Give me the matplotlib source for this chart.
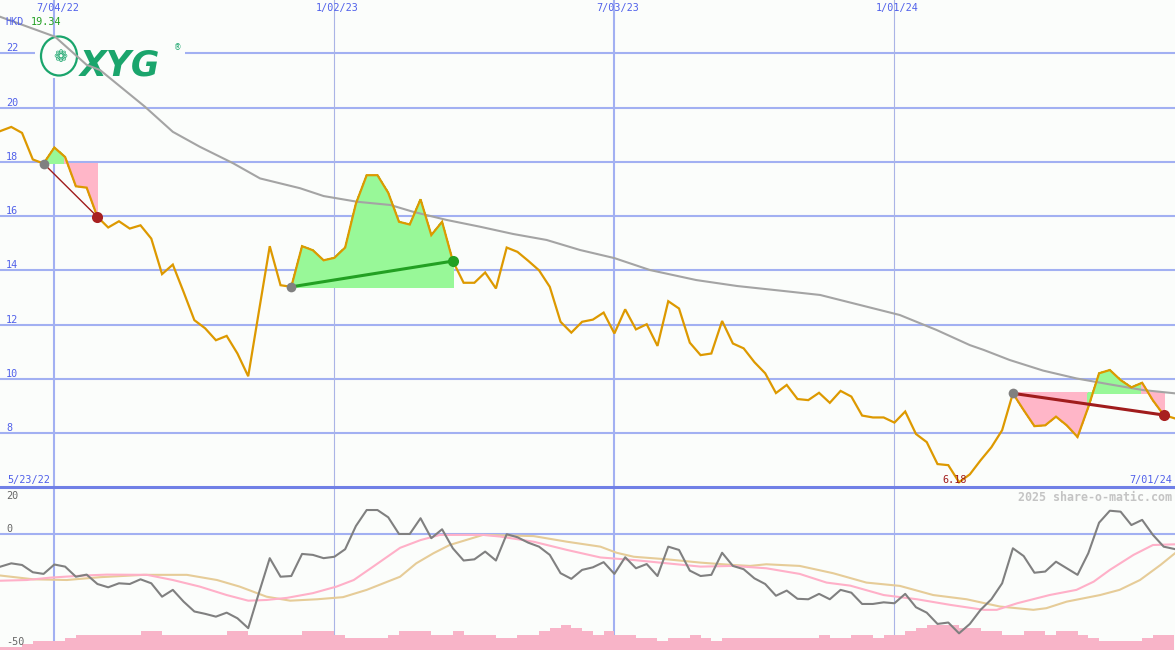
import matplotlib
matplotlib.use('Agg')
import matplotlib.pyplot as plt
from matplotlib.patches import Rectangle, Ellipse
import numpy as np

# ---------------- data ----------------
price = [19.14, 19.29, 19.07, 18.09, 17.94, 18.53, 18.18, 17.10, 17.05, 15.97,
         15.58, 15.81, 15.54, 15.66, 15.17, 13.86, 14.21, 13.20, 12.16, 11.86,
         11.42, 11.58, 10.93, 10.09, 12.50, 14.89, 13.45, 13.39, 14.89, 14.74,
         14.37, 14.46, 14.84, 16.46, 17.51, 17.51, 16.86, 15.79, 15.69, 16.62,
         15.30, 15.79, 14.34, 13.54, 13.54, 13.92, 13.33, 14.84, 14.68, 14.35,
         14.00, 13.39, 12.10, 11.70, 12.10, 12.18, 12.44, 11.67, 12.56, 11.82,
         12.01, 11.21, 12.86, 12.59, 11.33, 10.87, 10.93, 12.13, 11.30, 11.12,
         10.61, 10.20, 9.47, 9.77, 9.25, 9.21, 9.48, 9.11, 9.55, 9.34,
         8.64, 8.57, 8.57, 8.38, 8.79, 7.96, 7.66, 6.85, 6.81, 6.18,
         6.47, 6.99, 7.47, 8.10, 9.46, 8.84, 8.25, 8.28, 8.60, 8.28,
         7.85, 8.95, 10.20, 10.32, 9.95, 9.68, 9.85, 9.20, 8.66, 8.54]

ma_k = [0, 5.06, 8.0, 9.24, 13.4, 16.0, 18.5, 21.6, 24.1, 27.8, 30.0, 33.1, 36.2,
        38.3, 41.4, 44.5, 47.6, 50.7, 53.8, 57.0, 60.3, 64.6, 68.4, 72.4, 76.1,
        79.8, 83.5, 86.9, 90.0, 91.3, 93.7, 96.8, 99.9, 103.0, 106.1, 109.05]
ma_v = [23.35, 22.62, 21.58, 21.39, 20.04, 19.11, 18.56, 17.95, 17.39, 17.03, 16.74,
        16.53, 16.41, 16.16, 15.86, 15.61, 15.34, 15.12, 14.75, 14.45, 14.01, 13.64,
        13.42, 13.25, 13.09, 12.72, 12.35, 11.80, 11.24, 11.06, 10.69, 10.30, 10.01,
        9.79, 9.58, 9.46]

osc = [-13.9, -12.5, -13.2, -16.3, -17.0, -13.0, -13.9, -18.2, -17.3, -21.3,
       -22.7, -21.0, -21.3, -19.3, -21.0, -26.7, -23.8, -28.8, -33.0, -34.0,
       -35.2, -33.5, -35.9, -40.1, -25.0, -10.3, -18.2, -17.9, -8.5, -8.9,
       -10.3, -9.7, -6.5, 3.4, 10.2, 10.2, 7.1, 0.0, 0.0, 6.7,
       -1.8, 2.0, -6.1, -11.3, -10.8, -7.5, -11.3, -0.1, -1.4, -3.7,
       -5.4, -8.9, -16.7, -19.1, -15.3, -14.2, -12.0, -17.0, -9.9, -14.6,
       -12.8, -17.9, -5.4, -6.8, -15.6, -17.9, -17.4, -8.0, -13.6, -15.0,
       -18.9, -21.3, -26.3, -24.1, -27.6, -27.8, -25.5, -27.8, -23.8, -25.0,
       -29.8, -29.8, -29.1, -29.5, -25.5, -31.2, -33.5, -38.3, -37.7, -42.3,
       -38.3, -32.3, -27.8, -21.0, -6.1, -9.4, -16.5, -16.0, -11.8, -14.6,
       -17.4, -8.2, 4.8, 9.9, 9.5, 3.8, 6.0, -0.4, -5.4, -6.4]

sig1_k = [0, 2.43, 4.6, 7.7, 9.86, 13.6, 16.0, 18.5, 21.0, 23.0, 24.7, 26.6, 29.0,
          31.2, 32.8, 34.6, 37.1, 39.0, 40.8, 44.8, 46.4, 49.5, 52.6, 55.7, 58.8,
          61.9, 65.0, 68.0, 71.1, 74.2, 76.7, 78.9, 82.0, 85.1, 88.2, 91.3, 92.5,
          94.4, 97.4, 99.9, 101.5, 103.0, 105.2, 107.0, 109.05]
sig1_v = [-19.9, -19.6, -18.6, -17.7, -17.3, -17.4, -19.6, -22.4, -26.0, -28.4,
          -28.1, -27.2, -25.2, -22.4, -19.6, -13.9, -5.9, -2.6, -0.4, -0.4, -1.1,
          -3.3, -6.8, -10.0, -11.1, -12.5, -13.9, -13.6, -14.6, -17.0, -20.7,
          -22.0, -26.0, -27.8, -30.2, -32.3, -32.3, -29.5, -26.0, -23.8, -20.3,
          -15.3, -8.9, -4.7, -4.4]

sig2_k = [0, 3.05, 6.15, 9.24, 13.3, 17.3, 20.1, 22.2, 24.7, 26.9, 29.4, 31.8, 34.0,
          37.1, 38.6, 40.2, 41.7, 44.8, 49.5, 52.6, 55.7, 57.2, 58.8, 61.9, 65.0,
          68.0, 69.6, 71.1, 74.2, 77.3, 80.4, 83.5, 86.6, 89.7, 92.8, 95.9, 97.1,
          99.0, 102.1, 103.9, 105.8, 107.7, 109.05]
sig2_v = [-17.7, -19.3, -19.6, -18.4, -17.4, -17.4, -19.6, -22.4, -26.7, -28.4,
          -27.8, -26.9, -23.8, -18.2, -12.5, -8.2, -4.7, -0.4, -0.9, -3.3, -5.4,
          -8.0, -9.7, -10.8, -12.2, -13.2, -13.6, -12.9, -13.6, -16.7, -20.7,
          -22.1, -26.0, -27.8, -30.9, -32.3, -31.6, -28.8, -26.0, -23.8, -19.6,
          -13.2, -8.2]

vol = ([1.4, 1.4, 2.6, 3.8, 3.8, 3.8, 5.0] + [6.4] * 6 + [8.1] * 2 + [6.4] * 6 +
       [8.1] * 2 + [6.4] * 5 + [8.1] * 3 + [6.4] + [5.0] * 4 + [6.4] + [8.1] * 3 +
       [6.4] * 2 + [8.1] + [6.4] * 3 + [5.0] * 2 + [6.4] * 2 + [8.1, 9.2, 10.6, 9.2,
       8.1, 6.4, 8.1] + [6.4] * 2 + [5.0] * 2 + [3.8] + [5.0] * 2 + [6.4, 5.0, 3.8] +
       [5.0] * 9 + [6.4] + [5.0] * 2 + [6.4] * 2 + [5.0] + [6.4] * 2 + [8.1, 9.2] +
       [10.6] * 3 + [9.2] * 2 + [8.1] * 2 + [6.4] * 2 + [8.1] * 2 + [6.4] +
       [8.1] * 2 + [6.4, 5.0] + [3.8] * 4 + [5.0] + [6.4] * 2)

date_k = [5, 31, 57, 83]
date_labels = ['7/04/22', '1/02/23', '7/03/23', '1/01/24']
date_major = [True, False, True, False]
price_ticks = [8, 10, 12, 14, 16, 18, 20, 22]
osc_ticks = [20, 0, -50]
trends = [(4, 9), (27, 42), (94, 108)]
currency = 'HKD'
last_price = '19.34'
low_k = 89
low_label = '6.18'
start_label = '5/23/22'
end_label = '7/01/24'
watermark = '2025 share-o-matic.com'

# ---------------- style ----------------
W, H = 1175, 650
BG = '#fbfdfb'
GRID = '#a2b0f2'
GRID_THIN = '#aab4e6'
SEP = '#7080e6'
BLUE = '#5060ea'
MONO = 'DejaVu Sans Mono'
LOGO = '#1aa56c'

fig = plt.figure(figsize=(W / 100, H / 100), dpi=100, facecolor=BG)
ax = fig.add_axes([0, 163 / H, 1, 487 / H])
ax2 = fig.add_axes([0, 0, 1, 163 / H])
XL = (-0.046, 109.05)
for a in (ax, ax2):
    a.set_xlim(XL)
    a.set_axis_off()
ax.set_ylim(6.004, 23.974)
ax2.set_ylim(-49.4, 20.0)

# grid
for v in price_ticks:
    ax.axhline(v, color=GRID, lw=1.5, zorder=1)
for k, major in zip(date_k, date_major):
    for a in (ax, ax2):
        a.axvline(k, color=GRID if major else GRID_THIN, lw=1.5 if major else 0.8, zorder=1)
ax2.axhline(0, color=GRID, lw=1.5, zorder=1)
ax2.axhline(20, color=SEP, lw=2.2, zorder=6, clip_on=False)

# logo
ax.add_patch(Rectangle((35 / W, 1 - 78 / 487), 150 / W, 42 / 487, transform=ax.transAxes,
                       facecolor=BG, edgecolor='none', zorder=1.5))
ax.add_patch(Ellipse((59 / W, 1 - 56 / 487), 36 / W, 39 / 487, transform=ax.transAxes,
                     facecolor='none', edgecolor=LOGO, lw=1.6, zorder=1.6))
ax.text(60 / W, 1 - 57 / 487, '\u2741', transform=ax.transAxes, ha='center', va='center',
        fontsize=12, color=LOGO, zorder=1.6, family='DejaVu Sans')
ax.text(80 / W, 1 - 75 / 487, 'XYG', transform=ax.transAxes, fontsize=25,
        fontweight='bold', style='italic', color=LOGO, va='baseline', zorder=1.6,
        family='DejaVu Sans')
ax.text(174 / W, 1 - 50 / 487, '\u00ae', transform=ax.transAxes, fontsize=5.5,
        color=LOGO, va='baseline', zorder=1.6)

# moving average
ax.plot(ma_k, ma_v, color='#a4a4a4', lw=1.5, zorder=2.5)

# trend fills, lines and dots
GREEN_F, PINK_F = '#98f898', '#ffb6c8'
for s, e in trends:
    level = price[s]
    for i in range(s, e):
        c = GREEN_F if price[i + 1] >= level else PINK_F
        ax.fill([i, i, i + 1, i + 1], [level, price[i], price[i + 1], level],
                facecolor=c, edgecolor=c, lw=0.6, antialiased=False, zorder=2)
    up = price[e] >= price[s]
    lc = '#22a022' if up else '#a01c1c'
    dc = '#22a022' if up else '#a82020'
    ax.plot([s, e], [price[s], price[e]], color=lc, lw=1.0 if e - s < 8 else 2.2, zorder=4)
    ax.plot([s], [price[s]], 'o', color='#808080', ms=7, mec='none', zorder=5)
    ax.plot([e], [price[e]], 'o', color=dc, ms=8, mec='none', zorder=5)

# price line
ax.plot(range(len(price)), price, color='#dd9900', lw=1.6, zorder=3,
        solid_joinstyle='miter')

# labels main panel
for v in price_ticks:
    ax.annotate(str(v), xy=(0, v), xycoords=('axes fraction', 'data'), xytext=(6, 2),
                textcoords='offset pixels', fontsize=7.3, family=MONO, color=BLUE,
                va='baseline', ha='left', zorder=7)
for k, lbl in zip(date_k, date_labels):
    ax.annotate(lbl, xy=(k, 1), xycoords=('data', 'axes fraction'), xytext=(3, -3),
                textcoords='offset pixels', fontsize=7.3, family=MONO, color=BLUE,
                va='top', ha='center', zorder=7)
fig.text(5 / W, 1 - 25 / H, currency, fontsize=7.3, family=MONO, color=BLUE, va='baseline')
fig.text(31 / W, 1 - 25 / H, last_price, fontsize=7.3, family=MONO, color='#22a022',
         va='baseline')
fig.text(7 / W, 1 - 483 / H, start_label, fontsize=7.3, family=MONO, color=BLUE,
         va='baseline')
fig.text(1172 / W, 1 - 483 / H, end_label, fontsize=7.3, family=MONO, color=BLUE,
         va='baseline', ha='right')
ax.annotate(low_label, xy=(low_k, 0), xycoords=('data', 'axes fraction'), xytext=(-4, 4),
            textcoords='offset pixels', fontsize=7.3, family=MONO, color='#a01c1c',
            va='baseline', ha='center', zorder=7)
fig.text(1172 / W, 1 - 501 / H, watermark, fontsize=8.4, family=MONO, fontweight='bold',
         color='#c4c4c4', va='baseline', ha='right')

# lower panel
ax2.bar(np.arange(len(vol)) + 0.5, vol, width=1.0, bottom=-49.4, color='#f8b4c8',
        linewidth=0, zorder=2)
ax2.plot(sig2_k, sig2_v, color='#e6cc98', lw=1.5, zorder=3)
ax2.plot(sig1_k, sig1_v, color='#ffb0c8', lw=1.5, zorder=3.2)
ax2.plot(range(len(osc)), osc, color='#808080', lw=1.5, zorder=4)
osc_off = {20: -12, 0: 2, -50: 6}
for v in osc_ticks:
    ax2.annotate(str(v), xy=(0, v), xycoords=('axes fraction', 'data'),
                 xytext=(6, osc_off[v]), textcoords='offset pixels', fontsize=7.3,
                 family=MONO, color='#666666', va='baseline', ha='left', zorder=7,
                 annotation_clip=False)

fig.savefig('out.png', dpi=100, facecolor=BG)
